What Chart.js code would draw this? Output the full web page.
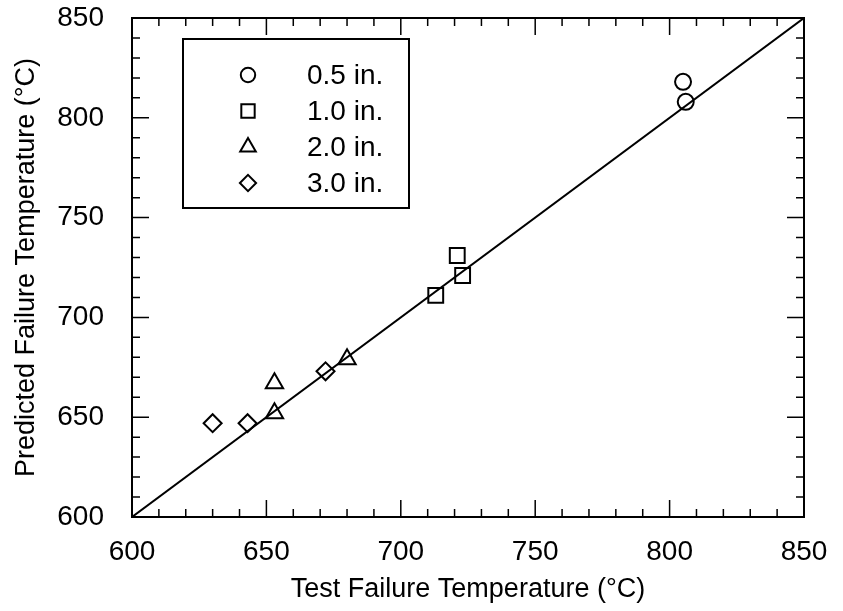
<!DOCTYPE html>
<html>
<head>
<meta charset="utf-8">
<script src="https://cdn.jsdelivr.net/npm/chart.js@4.4.1/dist/chart.umd.min.js"></script>
<style>
  html, body { margin:0; padding:0; background:#fff; }
  #wrap { width:843px; height:611px; position:relative; }
</style>
</head>
<body>
<div id="wrap"><canvas id="chart" width="843" height="611"></canvas></div>
<script>
// Data (test temp, predicted temp)
const labels = ['0.5 in.', '1.0 in.', '2.0 in.', '3.0 in.'];
const styles = ['circle', 'rect', 'triangle', 'rectRot'];
const radii = [8, 10.5, 10, 9];

const testHalf = [805, 806];
const predHalf = [818, 808];

const testOne = [713, 721, 723];
const predOne = [711, 731, 721];

const testTwo = [653, 653, 680];
const predTwo = [667, 652, 679];

const testThree = [630, 643, 672];
const predThree = [647, 647, 673];

// 1:1 line
const lineX = [600, 850];
const lineY = [600, 850];

const axisMin = 600, axisMax = 850;
const majorStep = 50, minorStep = 10;

const FONT = '"Liberation Sans", Arial, Helvetica, sans-serif';

function pts(xs, ys){ return xs.map((x,i)=>({x:x, y:ys[i]})); }

const seriesX = [testHalf, testOne, testTwo, testThree];
const seriesY = [predHalf, predOne, predTwo, predThree];

const datasets = seriesX.map((xs,i)=>({
    type:'scatter',
    label: labels[i],
    data: pts(xs, seriesY[i]),
    pointStyle: styles[i],
    radius: radii[i],
    borderColor:'#000',
    backgroundColor:'rgba(0,0,0,0)',
    borderWidth:2
}));
datasets.push({
    type:'line',
    label:'1:1',
    data: pts(lineX, lineY),
    borderColor:'#000',
    borderWidth:2,
    pointRadius:0,
    fill:false,
    tension:0
});

// frame, inward ticks, legend box inside the plot
const framePlugin = {
    id:'frame',
    afterDatasetsDraw(chart){
        const ctx = chart.ctx, a = chart.chartArea;
        const xs = chart.scales.x, ys = chart.scales.y;
        ctx.save();
        ctx.strokeStyle = '#000';
        ctx.lineWidth = 2;
        ctx.strokeRect(a.left, a.top, a.right-a.left, a.bottom-a.top);
        ctx.lineWidth = 1.5;
        ctx.beginPath();
        for(let v=axisMin; v<=axisMax; v+=minorStep){
            const len = (v % majorStep === 0) ? 17 : 8;
            const px = xs.getPixelForValue(v);
            ctx.moveTo(px, a.bottom); ctx.lineTo(px, a.bottom-len);
            ctx.moveTo(px, a.top); ctx.lineTo(px, a.top+len);
            const py = ys.getPixelForValue(v);
            ctx.moveTo(a.left, py); ctx.lineTo(a.left+len, py);
            ctx.moveTo(a.right, py); ctx.lineTo(a.right-len, py);
        }
        ctx.stroke();

        // legend
        const bx = a.left + 51, by = a.top + 21, bw = 226, bh = 169;
        ctx.lineWidth = 2;
        ctx.strokeRect(bx, by, bw, bh);
        ctx.font = '28px ' + FONT;
        ctx.textBaseline = 'middle';
        ctx.textAlign = 'left';
        labels.forEach((lab,i)=>{
            const ry = by + 36 + i*36;
            ctx.lineWidth = 2;
            ctx.strokeStyle = '#000';
            ctx.fillStyle = 'rgba(0,0,0,0)';
            Chart.helpers.drawPoint(ctx, {pointStyle:styles[i], radius:radii[i]*0.9, borderWidth:2}, bx + 65, ry);
            ctx.fillStyle = '#000';
            ctx.fillText(lab, bx + 124, ry + 1);
        });
        ctx.restore();
    }
};

new Chart(document.getElementById('chart'), {
    data:{ datasets },
    options:{
        responsive:false,
        animation:false,
        layout:{ padding:{ top:18, right:39, left:0, bottom:0 } },
        plugins:{ legend:{display:false}, tooltip:{enabled:false} },
        scales:{
            x:{
                type:'linear', min:axisMin, max:axisMax,
                grid:{ display:false, drawTicks:false },
                border:{ display:false },
                ticks:{ stepSize:majorStep, padding:18, color:'#000', font:{family:FONT, size:28} },
                title:{ display:true, text:'Test Failure Temperature (°C)', color:'#000',
                        font:{family:FONT, size:27}, padding:{top:0, bottom:5} },
                afterFit(s){ s.height = 94; s.paddingLeft = 0; s.paddingRight = 0; }
            },
            y:{
                type:'linear', min:axisMin, max:axisMax,
                grid:{ display:false, drawTicks:false },
                border:{ display:false },
                ticks:{ stepSize:majorStep, padding:28, color:'#000', font:{family:FONT, size:28} },
                title:{ display:true, text:'Predicted Failure Temperature (°C)', color:'#000',
                        font:{family:FONT, size:27}, padding:{top:10, bottom:0} },
                afterFit(s){ s.width = 132; s.paddingTop = 0; s.paddingBottom = 0; }
            }
        }
    },
    plugins:[framePlugin]
});
</script>
</body>
</html>
